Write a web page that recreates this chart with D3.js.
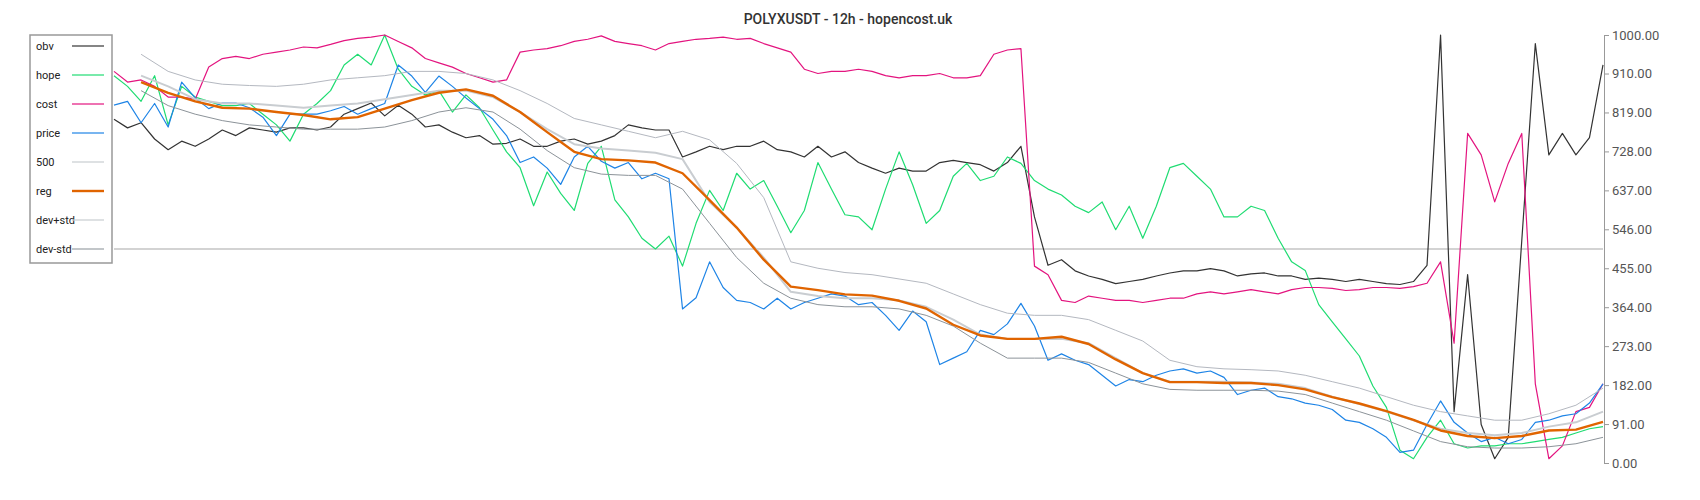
<!DOCTYPE html>
<html><head><meta charset="utf-8">
<script src="https://cdn.jsdelivr.net/npm/d3@7"></script>
<style>body{margin:0;background:#fff;font-family:Roboto,sans-serif}</style>
</head><body><svg id="chart" width="1700" height="500"></svg>
<script>
const yTicks = [0, 91, 182, 273, 364, 455, 546, 637, 728, 819, 910, 1000];
const names = ['obv', 'hope', 'cost', 'price', '500', 'reg', 'dev+std', 'dev-std'];

const obv = [803,783,795,757,732,752,740,757,778,765,783,778,773,783,783,778,785,815,828,841,
  811,836,815,785,790,773,760,765,745,747,757,740,740,752,757,745,752,765,790,783,
  778,778,715,727,740,732,740,740,752,732,727,715,740,715,727,702,689,677,689,682,
  682,702,707,702,697,682,702,740,575,462,475,449,437,429,419,424,429,437,444,449,
  449,454,449,437,442,444,437,437,429,432,429,424,429,424,419,417,424,462,
  1000,120,440,90,10,60,520,980,720,770,720,760,930];
const hope = [905,880,845,905,790,880,855,845,835,835,840,815,790,752,815,840,870,930,955,930,
  1000,920,880,860,870,820,860,830,778,727,690,601,680,630,590,700,740,615,575,525,
  500,530,460,560,637,590,677,640,660,600,538,590,702,640,580,575,545,640,727,650,
  560,590,670,700,660,670,715,700,660,640,626,600,585,610,545,600,525,600,690,700,
  670,640,575,575,600,590,525,470,450,370,330,290,250,180,130,30,10,60,100,45,
  35,40,40,45,45,50,55,60,70,80,85];
const cost = [915,890,895,880,855,855,850,925,945,950,945,955,960,965,972,970,978,987,992,995,
  1000,985,970,945,935,925,910,900,890,895,960,965,968,975,985,990,998,985,980,975,
  965,980,985,990,992,995,990,992,980,970,960,920,910,915,915,920,915,905,900,905,
  905,910,900,900,905,955,965,968,460,440,380,375,390,385,380,380,375,380,385,385,
  395,400,395,400,405,400,395,405,410,410,408,403,405,410,410,408,412,420,470,280,
  770,720,610,700,770,185,10,40,120,130,185];
const price = [836,845,795,840,785,890,853,828,841,841,830,808,765,815,815,815,823,833,815,828,
  840,930,904,866,904,880,853,828,803,765,702,715,689,651,715,740,705,689,702,664,
  677,664,360,386,470,410,380,375,360,385,360,375,385,395,390,370,375,345,310,355,
  330,230,245,260,310,300,325,373,320,240,255,240,230,205,180,195,190,205,215,220,
  210,215,200,160,170,175,155,150,140,135,125,100,95,80,60,25,30,90,145,95,
  70,50,60,45,55,95,100,110,115,140,185];
const avg500 = [905,880,850,840,840,835,830,835,840,850,860,870,870,855,820,780,745,735,730,725,
  710,610,550,480,400,390,385,385,380,365,335,300,290,290,290,280,245,210,190,190,
  190,188,185,175,155,138,120,100,80,70,65,70,85,95,120];
const reg = [890,865,845,830,828,820,813,803,808,828,848,865,873,858,820,773,727,710,707,702,
  677,614,550,475,412,404,394,391,379,361,323,298,290,290,295,278,242,210,189,189,
  187,187,182,172,154,139,121,101,76,63,58,63,76,78,96];
const devUp = [955,915,895,885,882,880,885,895,900,905,915,915,910,895,870,840,805,790,775,760,
  775,755,700,620,470,455,445,440,430,420,395,370,350,345,345,335,310,285,240,225,
  220,218,215,205,190,175,155,135,120,110,100,100,115,135,175];
const devDn = [870,835,815,800,790,785,780,780,780,785,800,820,830,820,780,730,690,675,672,672,
  640,560,480,420,385,370,365,365,360,345,320,280,245,245,245,235,210,185,172,170,
  170,170,168,160,140,120,100,75,50,38,35,35,38,45,60];

const series = [
  {data: obv, start: 105, step: 12.5, color: '#333333', w: 1.2},
  {data: hope, start: 105, step: 12.5, color: '#1fdc72', w: 1.2},
  {data: cost, start: 105, step: 12.5, color: '#e3147f', w: 1.2},
  {data: price, start: 105, step: 12.5, color: '#1e84e6', w: 1.2},
  {data: avg500, start: 130, step: 25, color: '#c9cdd1', w: 2},
  {data: devUp, start: 130, step: 25, color: '#b4b8c0', w: 1},
  {data: devDn, start: 130, step: 25, color: '#8c9399', w: 1},
  {data: reg, start: 130, step: 25, color: '#e06400', w: 2.4}
];

const svg = d3.select('#chart');
const x = d3.scaleLinear().domain([105, 1480]).range([114, 1603]);
const y = d3.scaleLinear().domain([0, 1000]).range([463, 35]);

svg.append('line').attr('x1', 114).attr('x2', 1603).attr('y1', y(500)).attr('y2', y(500))
  .attr('stroke', '#c4c4c4').attr('stroke-width', 1.5);

const line = d3.line().x(d => x(d[0])).y(d => y(d[1]));
series.forEach(s => {
  svg.append('path')
    .datum(s.data.map((v, i) => [s.start + i * s.step, v]))
    .attr('d', line).attr('fill', 'none')
    .attr('stroke', s.color).attr('stroke-width', s.w).attr('stroke-linejoin', 'round');
});

const axis = svg.append('g').attr('transform', 'translate(1604,0)')
  .call(d3.axisRight(y).tickValues(yTicks).tickFormat(d3.format('.2f')).tickSize(5));
axis.select('.domain').attr('stroke', '#999');
axis.selectAll('line').attr('stroke', '#999');
axis.selectAll('text').attr('font-size', 13).attr('fill', '#555').attr('font-family', 'Roboto');

svg.append('text').attr('x', 848).attr('y', 24).attr('text-anchor', 'middle')
  .attr('font-size', 14).attr('font-weight', 500).attr('fill', '#333')
  .text('POLYXUSDT - 12h - hopencost.uk');

// legend
const legColors = ['#333333', '#1fdc72', '#e3147f', '#1e84e6', '#c9cdd1', '#e06400', '#c9cdd1', '#9aa0a6'];
const lg = svg.append('g');
lg.append('rect').attr('x', 30).attr('y', 35).attr('width', 82).attr('height', 228)
  .attr('fill', '#fff').attr('stroke', '#999').attr('stroke-width', 1.5);
names.forEach((n, i) => {
  const yy = 46 + i * 29;
  lg.append('text').attr('x', 36).attr('y', yy + 4).attr('font-size', 11).attr('fill', '#222').text(n);
  lg.append('line').attr('x1', 72).attr('x2', 104).attr('y1', yy).attr('y2', yy)
    .attr('stroke', legColors[i]).attr('stroke-width', n === 'reg' ? 2.4 : 1.2);
});
</script></body></html>
